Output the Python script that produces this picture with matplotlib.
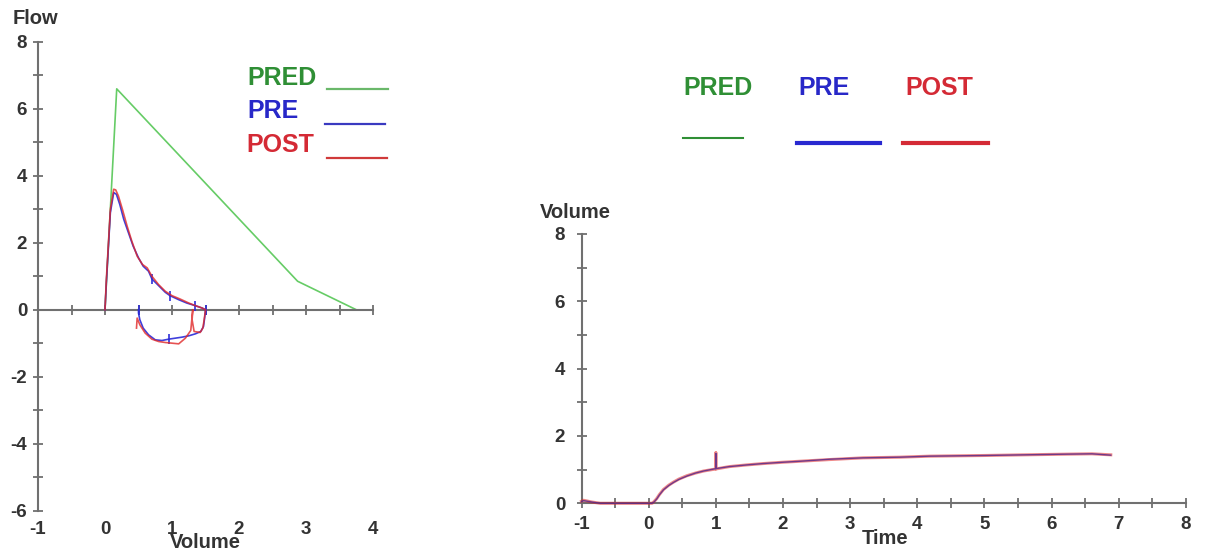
import matplotlib
matplotlib.use('Agg')
import matplotlib.pyplot as plt
from matplotlib.lines import Line2D
import numpy as np

plt.rcParams['font.family'] = ['Liberation Sans', 'DejaVu Sans']
plt.rcParams['font.weight'] = 'bold'
plt.rcParams['axes.unicode_minus'] = False

# ---------------- data: flow-volume ----------------
pred_vol = [0.0, 0.175, 2.875, 3.75]
pred_flow = [0.0, 6.6, 0.85, 0.0]

pre_vol = [0.0, 0.02, 0.08, 0.13, 0.17, 0.22, 0.28, 0.35, 0.42, 0.5, 0.57, 0.65, 0.7,
           0.8, 0.9, 0.97, 1.1, 1.22, 1.35, 1.45, 1.5,
           1.49, 1.47, 1.43, 1.35, 1.25, 1.15, 1.05, 0.95, 0.85, 0.75, 0.65, 0.57, 0.52, 0.5, 0.5]
pre_flow = [0.0, 0.8, 2.9, 3.5, 3.45, 3.15, 2.7, 2.3, 1.9, 1.55, 1.3, 1.15, 0.92,
            0.72, 0.52, 0.42, 0.3, 0.2, 0.12, 0.05, 0.0,
            -0.2, -0.5, -0.65, -0.72, -0.78, -0.82, -0.85, -0.88, -0.92, -0.9, -0.75, -0.55, -0.3, -0.1, 0.0]
pre_mark_idx = [12, 15, 18, 20, 28, 35]

post_vol = [0.0, 0.02, 0.08, 0.13, 0.16, 0.2, 0.26, 0.33, 0.4, 0.48, 0.56, 0.63, 0.7,
            0.8, 0.9, 1.0, 1.12, 1.25, 1.35, 1.45, 1.5,
            1.48, 1.46, 1.42, 1.33, 1.3, 1.31, 1.28, 1.2, 1.1, 1.0, 0.9, 0.8, 0.7, 0.6, 0.52, 0.48, 0.47]
post_flow = [0.0, 0.9, 3.0, 3.6, 3.58, 3.4, 3.0, 2.5, 2.05, 1.6, 1.35, 1.25, 1.0,
             0.75, 0.55, 0.42, 0.32, 0.2, 0.12, 0.05, 0.0,
             -0.3, -0.55, -0.68, -0.65, -0.3, 0.0, -0.62, -0.85, -1.02, -1.0, -0.98, -0.95, -0.88, -0.7, -0.45, -0.25, -0.55]

# ---------------- data: volume-time ----------------
pre_t = [-1.0, -0.97, -0.85, -0.72, 0.0, 0.05, 0.08, 0.12, 0.16, 0.22, 0.3, 0.37, 0.45, 0.57,
         0.7, 0.82, 1.0, 1.0, 1.0, 1.2, 1.46, 1.7, 2.0, 2.26, 2.7, 3.19, 3.74, 4.18, 4.99,
         5.6, 6.23, 6.6, 6.88]
pre_v = [0.05, 0.08, 0.04, 0.0, 0.0, 0.0, 0.04, 0.13, 0.25, 0.4, 0.53, 0.62, 0.71, 0.81,
         0.9, 0.96, 1.03, 1.48, 1.03, 1.09, 1.14, 1.18, 1.22, 1.25, 1.31, 1.35, 1.37, 1.40,
         1.42, 1.44, 1.46, 1.47, 1.43]
post_t = [-1.0, -0.97, -0.85, -0.72, 0.0, 0.05, 0.08, 0.12, 0.16, 0.22, 0.3, 0.37, 0.45, 0.57,
          0.7, 0.82, 1.0, 1.0, 1.0, 1.2, 1.46, 1.7, 2.0, 2.26, 2.7, 3.19, 3.74, 4.18, 4.99,
          5.6, 6.23, 6.6, 6.88]
post_v = [0.06, 0.09, 0.04, 0.0, 0.0, 0.0, 0.05, 0.14, 0.26, 0.41, 0.54, 0.63, 0.72, 0.82,
          0.9, 0.96, 1.02, 1.5, 1.02, 1.09, 1.14, 1.18, 1.22, 1.25, 1.3, 1.35, 1.37, 1.40,
          1.42, 1.44, 1.46, 1.47, 1.44]

flow_xticks = [-1, 0, 1, 2, 3, 4]
flow_yticks = [-6, -4, -2, 0, 2, 4, 6, 8]
time_xticks = [-1, 0, 1, 2, 3, 4, 5, 6, 7, 8]
vol_yticks = [0, 2, 4, 6, 8]

legend_names = ['PRED', 'PRE', 'POST']

# ---------------- styling ----------------
W, H = 1207, 553
fig = plt.figure(figsize=(W / 100, H / 100), dpi=100)

def fx(px):
    return px / W

def fy(py):
    return 1 - py / H

AX_C = '#707070'
TXT_C = '#333333'
GREEN_T = '#2f8f35'
BLUE_T = '#2828c8'
RED_T = '#d42a35'
PRED_C = '#66cc66'
PRE_C = '#2a2ad8'
POST_C = '#e02828'


def style_axes(ax, xticks, yticks, xlim, ylim, xlab_pad, ylab_pad, zero_spine):
    ax.set_xlim(*xlim)
    ax.set_ylim(*ylim)
    ax.set_facecolor('none')
    for s in ['top', 'right']:
        ax.spines[s].set_visible(False)
    for s in ['left', 'bottom']:
        ax.spines[s].set_color(AX_C)
        ax.spines[s].set_linewidth(1.5)
    if zero_spine:
        ax.spines['bottom'].set_position(('data', 0))
    ax.set_xticks(np.arange(xlim[0], xlim[1] + 0.01, 0.5))
    ax.set_yticks(yticks)
    ax.set_yticks(np.arange(ylim[0] + 1, ylim[1], 2), minor=True)
    ax.tick_params(axis='both', which='both', direction='inout', length=7.5,
                   width=1.3, color=AX_C)
    ax.tick_params(axis='x', labelbottom=False)
    ax.tick_params(axis='y', labelsize=13.5, labelcolor=TXT_C, pad=ylab_pad)
    for lab in ax.get_yticklabels():
        lab.set_fontweight('bold')
    sec = ax.secondary_xaxis('bottom')
    sec.set_xticks(xticks)
    sec.set_xticklabels([str(v) for v in xticks], fontweight='bold')
    sec.spines['bottom'].set_visible(False)
    sec.tick_params(length=0, labelsize=13.5, labelcolor=TXT_C, pad=xlab_pad)


# ---- left: flow-volume ----
axL = fig.add_axes([fx(38), fy(510.5), fx(373) - fx(38), fy(42) - fy(510.5)])
style_axes(axL, flow_xticks, flow_yticks, (-1, 4), (-6, 8), 7.5, 4, True)
axL.plot(pred_vol, pred_flow, color=PRED_C, lw=1.2, clip_on=False, zorder=2)
axL.plot(pre_vol, pre_flow, color=PRE_C, lw=1.2, alpha=0.9, zorder=3,
         marker='|', markersize=7, markeredgewidth=1.3, markevery=pre_mark_idx)
axL.plot(post_vol, post_flow, color=POST_C, lw=1.2, alpha=0.8, zorder=4)

fig.text(fx(35), fy(18), 'Flow', ha='center', va='center', fontsize=14.5,
         fontweight='bold', color=TXT_C)
fig.text(fx(205), fy(543), 'Volume', ha='center', va='center', fontsize=14.5,
         fontweight='bold', color=TXT_C)

# ---- right: volume-time ----
axR = fig.add_axes([fx(581.5), fy(503.3), fx(1186) - fx(581.5), fy(234) - fy(503.3)])
style_axes(axR, time_xticks, vol_yticks, (-1, 8), (0, 8), 9, 8, False)
axR.plot(post_t, post_v, color=POST_C, lw=2.2, alpha=0.55, clip_on=False, zorder=3)
axR.plot(pre_t, pre_v, color='#5a2a8a', lw=1.0, alpha=0.85, clip_on=False, zorder=4)

fig.text(fx(575), fy(213), 'Volume', ha='center', va='center', fontsize=14.5,
         fontweight='bold', color=TXT_C)
fig.text(fx(885), fy(538), 'Time', ha='center', va='center', fontsize=14.5,
         fontweight='bold', color=TXT_C)

# ---- legends ----
left_leg = [
    (legend_names[0], GREEN_T, 247, 85, (327, 388, 89), '#6ab86a', 1.6),
    (legend_names[1], BLUE_T, 247, 118, (325, 385, 124), '#3a3ac0', 1.6),
    (legend_names[2], RED_T, 246, 152, (327, 387, 158), '#d03a3a', 1.6),
]
for name, tc, tx, ty, (x0, x1, ly), lc, lw in left_leg:
    fig.text(fx(tx), fy(ty), name, ha='left', va='baseline', fontsize=18,
             fontweight='bold', color=tc)
    fig.add_artist(Line2D([fx(x0), fx(x1)], [fy(ly), fy(ly)], color=lc, lw=lw,
                          transform=fig.transFigure))

right_leg = [
    (legend_names[0], GREEN_T, 683, 95, (683, 743, 138), '#2f8f35', 1.5),
    (legend_names[1], BLUE_T, 798, 95, (797, 880, 143), '#2828d0', 3.0),
    (legend_names[2], RED_T, 905, 95, (903, 988, 143), '#d42a35', 3.0),
]
for name, tc, tx, ty, (x0, x1, ly), lc, lw in right_leg:
    fig.text(fx(tx), fy(ty), name, ha='left', va='baseline', fontsize=18,
             fontweight='bold', color=tc)
    fig.add_artist(Line2D([fx(x0), fx(x1)], [fy(ly), fy(ly)], color=lc, lw=lw,
                          transform=fig.transFigure))

fig.savefig('out.png', dpi=100, facecolor='white')
